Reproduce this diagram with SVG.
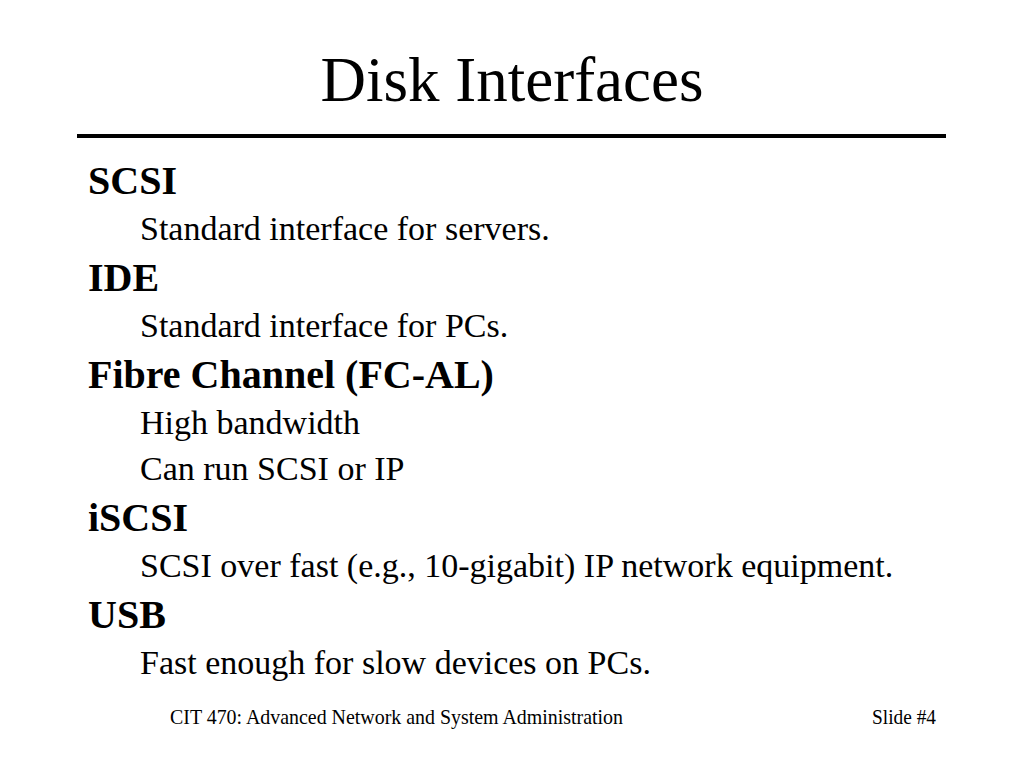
<svg xmlns="http://www.w3.org/2000/svg" width="1024" height="768" viewBox="0 0 1024 768">
<style>
text{font-family:"Liberation Serif","Times New Roman",serif;fill:#000}
.h{font-size:40px;font-weight:bold}
.s{font-size:34px}
.f{font-size:21px}
</style>
<rect width="1024" height="768" fill="#fff"/>
<text x="512" y="101" font-size="63" text-anchor="middle">Disk Interfaces</text>
<rect x="77" y="134" width="869" height="4" fill="#000"/>
<g id="scsi"><text class="h" x="88" y="194">SCSI</text><text class="s" x="140" y="240">Standard interface for servers.</text></g>
<g id="ide"><text class="h" x="88" y="291">IDE</text><text class="s" x="140" y="337">Standard interface for PCs.</text></g>
<g id="fc"><text class="h" x="88" y="388">Fibre Channel (FC-AL)</text><text class="s" x="140" y="434">High bandwidth</text><text class="s" x="140" y="480">Can run SCSI or IP</text></g>
<g id="iscsi"><text class="h" x="88" y="531">iSCSI</text><text class="s" x="140" y="577">SCSI over fast (e.g., 10-gigabit) IP network equipment.</text></g>
<g id="usb"><text class="h" x="88" y="628">USB</text><text class="s" x="140" y="674">Fast enough for slow devices on PCs.</text></g>
<text class="f" x="170" y="724" textLength="453" lengthAdjust="spacingAndGlyphs">CIT 470: Advanced Network and System Administration</text>
<text class="f" x="936" y="724" text-anchor="end" textLength="64" lengthAdjust="spacingAndGlyphs">Slide #4</text>
</svg>
